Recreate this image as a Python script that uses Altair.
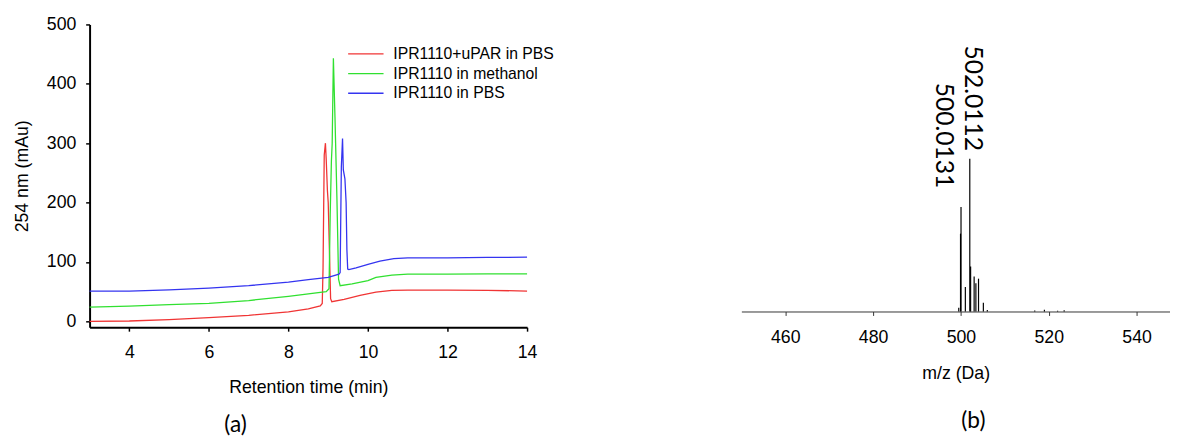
import altair as alt
import pandas as pd

# ---------------- (a) HPLC chromatograms ----------------
series_names = ["IPR1110+uPAR in PBS", "IPR1110 in methanol", "IPR1110 in PBS"]
series_colors = ["#f03434", "#30e030", "#3434f0"]

red_t = [3, 4, 5, 6, 7, 8, 8.5, 8.8, 8.85, 8.87, 8.9, 8.93, 8.95, 8.98, 9.0, 9.03, 9.06, 9.09,
         9.4, 9.8, 10.2, 10.6, 11, 12, 13, 14]
red_v = [0, 0.5, 3, 6, 10, 16, 21, 26, 30, 90, 280, 300, 272, 220, 200, 120, 38, 33,
         37, 43.6, 49, 52, 52.5, 52.5, 52, 51]

green_t = [3, 4, 5, 6, 7, 8, 8.5, 8.95, 9.02, 9.05, 9.08, 9.1, 9.13, 9.17, 9.22, 9.26, 9.3,
           9.6, 10.0, 10.2, 10.6, 11, 12, 13, 14]
green_v = [24, 25.5, 28, 30, 35, 42, 46, 50, 55, 180, 270, 300, 443, 344, 204, 71, 60,
           63, 68.5, 74, 77.8, 79.5, 79.5, 80, 80]

blue_t = [3, 4, 5, 6, 7, 8, 8.5, 9.0, 9.27, 9.3, 9.33, 9.36, 9.38, 9.42, 9.45, 9.47, 9.49,
          9.52, 9.7, 10.0, 10.3, 10.65, 11, 12, 13, 14]
blue_v = [51, 51, 53, 56, 60, 66, 70, 74, 79.5, 82, 260, 308, 255, 240, 200, 120, 88,
          87, 90, 96, 101.5, 105.4, 107, 107, 107.5, 108]

x_ticks_a = [4, 6, 8, 10, 12, 14]
y_ticks_a = [0, 100, 200, 300, 400, 500]

# ---------------- (b) mass spectrum ----------------
ms_mz = [499.5, 499.9, 500.0131, 501.0, 502.0112, 502.2, 503.0, 503.4, 504.0, 505.1, 506.0,
         516.8, 519.0, 522.0, 523.5]
ms_int = [2.5, 51, 68.5, 16, 100, 29.5, 23, 18.5, 21.5, 5.7, 1, 0.6, 1.2, 0.5, 0.8]
label_mz = [500.0131, 502.0112]
label_int = [68.5, 100]
label_text = ["500.0131", "502.0112"]
x_ticks_b = [460, 480, 500, 520, 540]

rows = []
for name, ts, vs in zip(series_names, [red_t, green_t, blue_t], [red_v, green_v, blue_v]):
    for t, v in zip(ts, vs):
        rows.append({"series": name, "t": t, "v": v})
hplc = pd.DataFrame(rows)

AX_FONT = "Liberation Sans"

left = alt.Chart(hplc).mark_line(strokeWidth=1.3).encode(
    x=alt.X("t:Q",
            scale=alt.Scale(domain=[3, 14], nice=False, zero=False),
            axis=alt.Axis(values=x_ticks_a, title="Retention time (min)", grid=False,
                          domainColor="black", domainWidth=2, tickColor="black",
                          tickWidth=1.5, tickSize=4, labelFontSize=18, titleFontSize=18,
                          labelFont=AX_FONT, titleFont=AX_FONT, labelColor="black",
                          titleColor="black", titleFontWeight="normal", labelPadding=13,
                          titlePadding=17, labelFlush=False)),
    y=alt.Y("v:Q",
            scale=alt.Scale(domain=[-10, 500], nice=False, zero=False),
            axis=alt.Axis(values=y_ticks_a, title="254 nm (mAu)", grid=False,
                          domainColor="black", domainWidth=2, tickColor="black",
                          tickWidth=1.5, tickSize=4, labelFontSize=18, titleFontSize=18,
                          labelFont=AX_FONT, titleFont=AX_FONT, labelColor="black",
                          titleColor="black", titleFontWeight="normal", labelPadding=10,
                          titlePadding=15, labelFlush=False)),
    color=alt.Color("series:N",
                    scale=alt.Scale(domain=series_names, range=series_colors),
                    legend=alt.Legend(title=None, orient="none", legendX=262, legendY=20,
                                      symbolType="stroke", symbolSize=1296,
                                      symbolStrokeWidth=1.3, labelFontSize=16,
                                      labelFont=AX_FONT, labelColor="black",
                                      labelLimit=0, labelOffset=9, clipHeight=20,
                                      rowPadding=0, padding=0)),
).properties(
    width=445, height=308,
    title=alt.TitleParams("(a)", orient="bottom", fontSize=23, font="Lato",
                          fontWeight="normal", color="black", dx=-74, offset=19),
)

ms_df = pd.DataFrame({"mz": ms_mz, "inten": ms_int})
lab_df = pd.DataFrame({"mz": label_mz, "inten": label_int, "text": label_text})

xb = alt.X("mz:Q",
           scale=alt.Scale(domain=[450, 547.6], nice=False, zero=False),
           axis=alt.Axis(values=x_ticks_b, title="m/z (Da)", grid=False,
                         domainColor="#333333", domainWidth=1, tickColor="#333333",
                         tickWidth=1, tickSize=4, labelFontSize=18, titleFontSize=18,
                         labelFont=AX_FONT, titleFont=AX_FONT, labelColor="black",
                         titleColor="black", titleFontWeight="normal", labelPadding=14,
                         titlePadding=18, labelFlush=False))
yb = alt.Y("inten:Q", scale=alt.Scale(domain=[0, 188], nice=False), axis=None)

sticks = alt.Chart(ms_df).mark_rule(color="black", strokeWidth=1.2).encode(
    x=xb, y=yb, y2=alt.datum(0)
)

lab_hi = alt.Chart(lab_df).transform_filter(alt.datum.text == "502.0112").mark_text(
    angle=90, align="right", baseline="middle", dx=-8, dy=-3, fontSize=25,
    font="Lato", color="black"
).encode(x="mz:Q", y="inten:Q", text="text:N")

lab_lo = alt.Chart(lab_df).transform_filter(alt.datum.text == "500.0131").mark_text(
    angle=90, align="right", baseline="middle", dx=-19, dy=17, fontSize=25,
    font="Lato", color="black"
).encode(x="mz:Q", y="inten:Q", text="text:N")

right = alt.layer(sticks, lab_hi, lab_lo).properties(
    width=436, height=292,
    title=alt.TitleParams("(b)", orient="bottom", fontSize=23, font="Lato",
                          fontWeight="normal", color="black", dx=18, offset=28),
)

chart = alt.hconcat(left, right, spacing=218, bounds="flush").properties(
    padding={"left": 5, "top": 4, "right": 0, "bottom": 0},
    background="white",
).configure_view(strokeWidth=0, stroke="transparent")

chart.save("out.html", embed_options={"renderer": "svg", "actions": False})
